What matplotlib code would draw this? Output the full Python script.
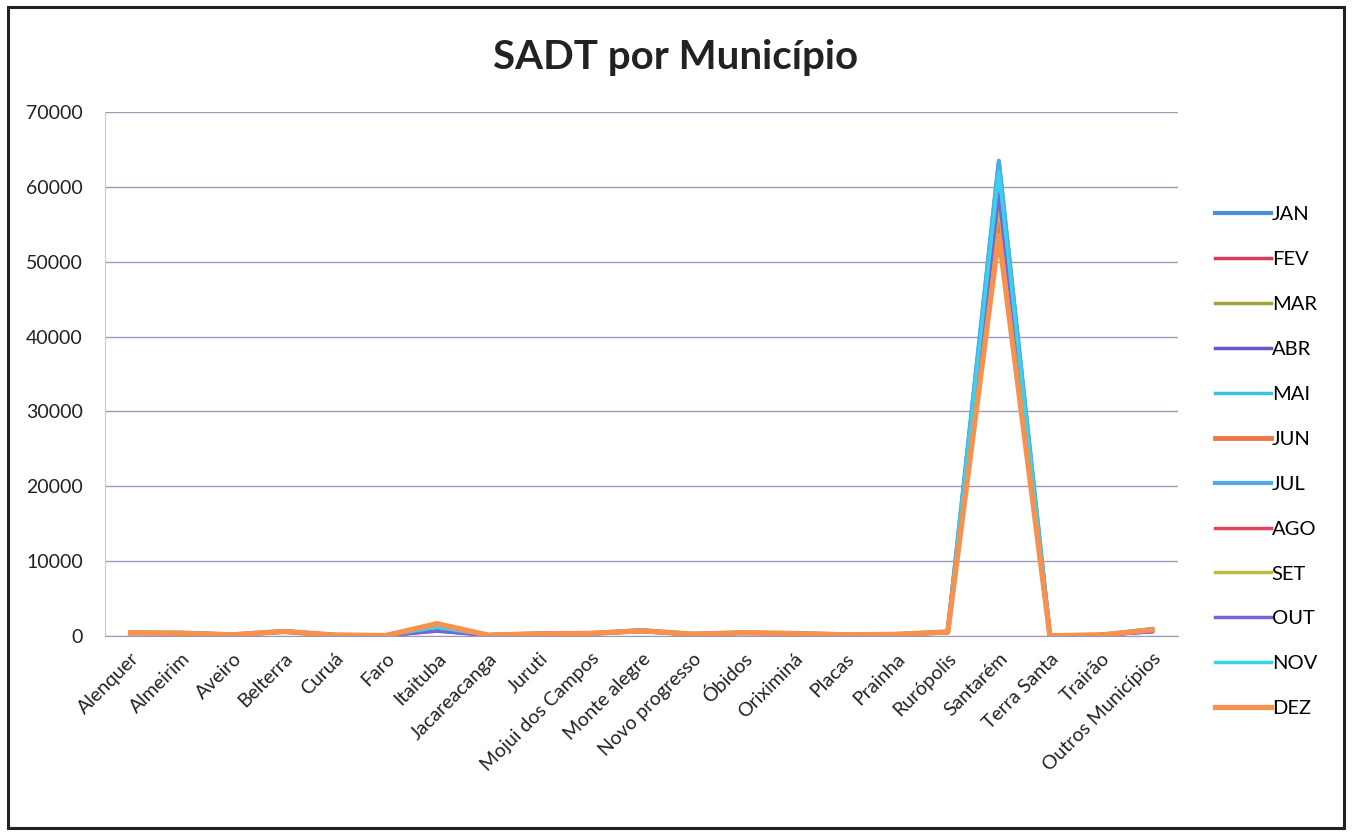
import matplotlib
matplotlib.use("Agg")
import matplotlib.pyplot as plt
import matplotlib.patches as mpatches
import numpy as np

# ── Data ───────────────────────────────────────────────────────────────────────
municipios = [
    "Alenquer", "Almeirim", "Aveiro", "Belterra", "Curuá", "Faro", "Itaituba",
    "Jacareacanga", "Juruti", "Mojui dos Campos", "Monte alegre",
    "Novo progresso", "Óbidos", "Oriximiná", "Placas", "Prainha", "Rurópolis",
    "Santarém", "Terra Santa", "Trairão", "Outros Municípios",
]
meses = ["JAN", "FEV", "MAR", "ABR", "MAI", "JUN",
         "JUL", "AGO", "SET", "OUT", "NOV", "DEZ"]

jan = [420, 380, 160, 560, 130, 60, 1150, 110, 290, 330, 640, 230, 430, 330, 150, 210, 520, 63200, 30, 130, 720]
fev = [380, 340, 140, 600, 110, 50, 900, 90, 260, 300, 600, 200, 400, 300, 130, 190, 480, 57500, 20, 110, 650]
mar = [400, 360, 170, 700, 120, 70, 1050, 100, 280, 340, 680, 240, 410, 320, 160, 220, 500, 57000, 30, 140, 700]
abr = [390, 350, 150, 580, 120, 60, 650, 100, 270, 320, 800, 210, 420, 310, 140, 200, 490, 60000, 20, 120, 560]
mai = [450, 460, 160, 560, 130, 70, 1100, 110, 300, 330, 700, 230, 440, 420, 150, 210, 530, 61500, 30, 130, 950]
jun = [400, 370, 170, 620, 120, 60, 1500, 100, 290, 340, 720, 250, 430, 330, 160, 220, 520, 56500, 30, 140, 800]
jul = [430, 390, 160, 570, 130, 60, 1200, 110, 300, 340, 660, 230, 440, 340, 150, 210, 530, 63500, 30, 130, 760]
ago = [410, 370, 150, 590, 120, 60, 1000, 100, 280, 320, 630, 220, 420, 320, 140, 200, 510, 58000, 20, 120, 700]
se_ = [400, 360, 170, 680, 120, 70, 1100, 100, 280, 330, 700, 240, 410, 320, 150, 210, 500, 57500, 30, 130, 720]
out = [390, 350, 150, 570, 110, 60, 700, 90, 270, 320, 780, 210, 410, 310, 140, 200, 490, 59000, 20, 120, 600]
nov = [440, 450, 160, 560, 130, 70, 1150, 110, 300, 330, 690, 230, 430, 410, 150, 210, 520, 62000, 30, 130, 1000]
dez = [420, 380, 160, 600, 120, 60, 1650, 110, 300, 350, 700, 250, 420, 340, 160, 220, 540, 53500, 30, 140, 820]

series = [jan, fev, mar, abr, mai, jun, jul, ago, se_, out, nov, dez]

cores = ["#4a8fd8", "#d63a5a", "#a3a33a", "#6b52c8", "#35c3e0", "#f07548",
         "#4fa9ec", "#e2445e", "#bdbd3c", "#7a63d4", "#38d2ea", "#f7914f"]
larguras = [3.0, 2.5, 2.5, 2.5, 2.5, 3.5, 3.0, 2.5, 2.5, 2.5, 2.5, 3.8]

plt.rcParams["font.family"] = ["Lato", "DejaVu Sans"]

fig = plt.figure(figsize=(13.52, 8.33), dpi=100)
fig.patch.set_facecolor("white")
ax = fig.add_axes([0.0777, 0.2365, 0.7933, 0.629])

x = np.arange(len(municipios))
for vals, nome, cor, lw in zip(series, meses, cores, larguras):
    ax.plot(x, vals, color=cor, lw=lw, label=nome, solid_joinstyle="round")

ax.set_xlim(-0.5, len(municipios) - 0.5)
ax.set_ylim(0, 70000)
ax.set_yticks(np.arange(0, 70001, 10000))
ax.set_yticklabels([str(v) for v in range(0, 70001, 10000)], fontsize=14,
                   color="#222222")
ax.set_xticks(x)
ax.set_xticklabels(municipios, rotation=45, ha="right",
                   rotation_mode="anchor", fontsize=14, color="#222222")
ax.tick_params(axis="both", length=0)
ax.tick_params(axis="y", pad=16)
ax.tick_params(axis="x", pad=10)

ax.grid(axis="y", color="#9a9ab8", lw=1.0)
ax.set_axisbelow(True)
for side in ["top", "right"]:
    ax.spines[side].set_visible(False)
ax.spines["left"].set_color("#c8c8d8")
ax.spines["bottom"].set_color("#9a9ab8")

fig.text(0.5, 0.931, "SADT por Município", ha="center", va="center",
         fontsize=29, fontweight="bold", color="#222222")

fig.legend(loc="upper left", bbox_to_anchor=(0.893, 0.762), frameon=False,
           fontsize=14.5, labelspacing=1.38, handlelength=2.75,
           handletextpad=0.05, borderaxespad=0)

# outer border
fig.patches.append(mpatches.Rectangle((0.006, 0.006), 0.988, 0.985,
                                      transform=fig.transFigure, fill=False,
                                      edgecolor="#222222", lw=2.2))

fig.savefig("out.png", dpi=100)
